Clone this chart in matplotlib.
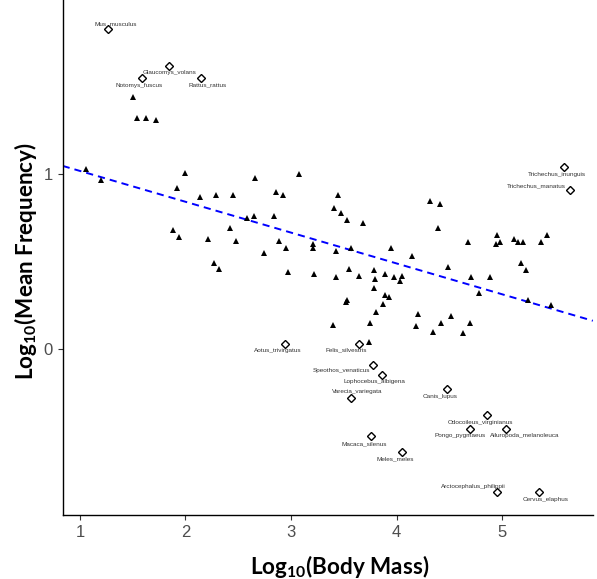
import matplotlib
matplotlib.use("Agg")
import matplotlib.pyplot as plt

# triangles: species inside the frequency-mass allometry
tri_x = [1.50, 1.54, 1.63, 1.72, 1.06, 1.20, 2.00, 2.66, 3.08, 1.92,
         2.14, 2.29, 2.45, 2.86, 2.92, 2.58, 2.65, 2.84, 1.88, 1.94,
         2.21, 2.42, 2.48, 2.89, 2.95, 3.21, 3.21, 2.74, 2.27, 2.32,
         2.97, 3.22, 3.45, 3.41, 3.47, 3.53, 3.68, 4.32, 4.41, 4.39,
         4.95, 5.43, 5.11, 4.68, 4.94, 4.98, 5.15, 5.20, 5.37, 3.43,
         3.57, 3.95, 4.15, 5.18, 5.23, 4.49, 3.55, 3.64, 3.79, 3.89,
         4.05, 3.98, 3.43, 3.80, 4.71, 4.89, 4.03, 3.79, 3.89, 3.93,
         3.53, 3.52, 3.87, 3.81, 4.20, 3.40, 3.75, 4.18, 3.74, 4.78,
         5.25, 5.46, 4.52, 4.42, 4.70, 4.35, 4.63]
tri_y = [1.44, 1.32, 1.32, 1.31, 1.03, 0.97, 1.01, 0.98, 1.00, 0.92,
         0.87, 0.88, 0.88, 0.90, 0.88, 0.75, 0.76, 0.76, 0.68, 0.64,
         0.63, 0.69, 0.62, 0.62, 0.58, 0.60, 0.58, 0.55, 0.49, 0.46,
         0.44, 0.43, 0.88, 0.81, 0.78, 0.74, 0.72, 0.85, 0.83, 0.69,
         0.65, 0.65, 0.63, 0.61, 0.60, 0.61, 0.61, 0.61, 0.61, 0.56,
         0.58, 0.58, 0.53, 0.49, 0.45, 0.47, 0.46, 0.42, 0.45, 0.43,
         0.42, 0.41, 0.41, 0.40, 0.41, 0.41, 0.39, 0.35, 0.31, 0.30,
         0.28, 0.27, 0.26, 0.21, 0.20, 0.14, 0.15, 0.13, 0.04, 0.32,
         0.28, 0.25, 0.19, 0.15, 0.15, 0.10, 0.09]

# diamonds: labelled outliers
out_names = ["Mus_musculus", "Glaucomys_volans", "Notomys_fuscus", "Rattus_rattus",
             "Trichechus_inunguis", "Trichechus_manatus", "Aotus_trivirgatus",
             "Felis_silvestris", "Speothos_venaticus", "Lophocebus_albigena",
             "Varecia_variegata", "Macaca_silenus", "Meles_meles", "Canis_lupus",
             "Odocoileus_virginianus", "Pongo_pygmaeus", "Ailuropoda_melanoleuca",
             "Arctocephalus_philippii", "Cervus_elaphus"]
out_x = [1.27, 1.84, 1.59, 2.15, 5.59, 5.64, 2.94, 3.64, 3.78, 3.86,
         3.57, 3.76, 4.05, 4.48, 4.86, 4.70, 5.04, 4.95, 5.35]
out_y = [1.83, 1.62, 1.55, 1.55, 1.04, 0.91, 0.03, 0.03, -0.09, -0.15,
         -0.28, -0.50, -0.59, -0.23, -0.38, -0.46, -0.46, -0.82, -0.82]

# fitted line
slope = -0.1765
intercept = 1.196

# label offsets in pixels (dx, dy), y up
label_off = [(7, 6), (1, -6), (-3, -7), (6, -7), (-7, -7), (-33, 4), (-7, -7),
             (-12, -6), (-32, -6), (-7, -6), (6, 6), (-7, -7), (-7, -7), (-7, -7),
             (-7, -7), (-10, -6), (18, -6), (-23, 6), (7, -7)]

plt.rcParams["mathtext.fontset"] = "custom"
plt.rcParams["mathtext.rm"] = "Lato:bold"
plt.rcParams["mathtext.bf"] = "Lato:bold"

fig = plt.figure(figsize=(5.97, 5.79), dpi=100)
ax = fig.add_axes([0.105, 0.110, 0.888, 0.890])

xmin, xmax = 0.837, 5.86
ax.plot([xmin, xmax], [intercept + slope * xmin, intercept + slope * xmax],
        color="#0000FF", lw=1.4, dashes=(3.7, 2.6), zorder=1)

ax.plot(tri_x, tri_y, "^", color="black", ms=5, mew=0, zorder=2)
ax.plot(out_x, out_y, "D", mfc="white", mec="black", ms=3.8, mew=1.0, zorder=3)

for name, x, y, (dx, dy) in zip(out_names, out_x, out_y, label_off):
    ax.annotate(name, (x, y), xytext=(dx, dy), textcoords="offset pixels",
                ha="center", va="center", fontsize=4.6, color="#333333",
                family="Liberation Sans")

ax.set_xlim(xmin, xmax)
ax.set_ylim(-0.952, 1.998)
ax.set_xticks([1, 2, 3, 4, 5])
ax.set_yticks([0, 1])
for s in ["top", "right"]:
    ax.spines[s].set_visible(False)
for s in ["left", "bottom"]:
    ax.spines[s].set_linewidth(1.0)
ax.tick_params(length=3.5, width=0.8, color="#333333", labelcolor="#4D4D4D",
               labelsize=12)
for lab in ax.get_xticklabels() + ax.get_yticklabels():
    lab.set_family("Liberation Sans")

fig.text(340 / 597, 1 - 566 / 579, "Log$_{10}$(Body Mass)", ha="center", va="center",
         fontsize=16.2, fontweight="bold", family="Lato")
fig.text(26 / 597, 1 - 261 / 579, "Log$_{10}$(Mean Frequency)", ha="center", va="center",
         rotation=90, fontsize=16.2, fontweight="bold", family="Lato")

fig.savefig("out.png", dpi=100)
